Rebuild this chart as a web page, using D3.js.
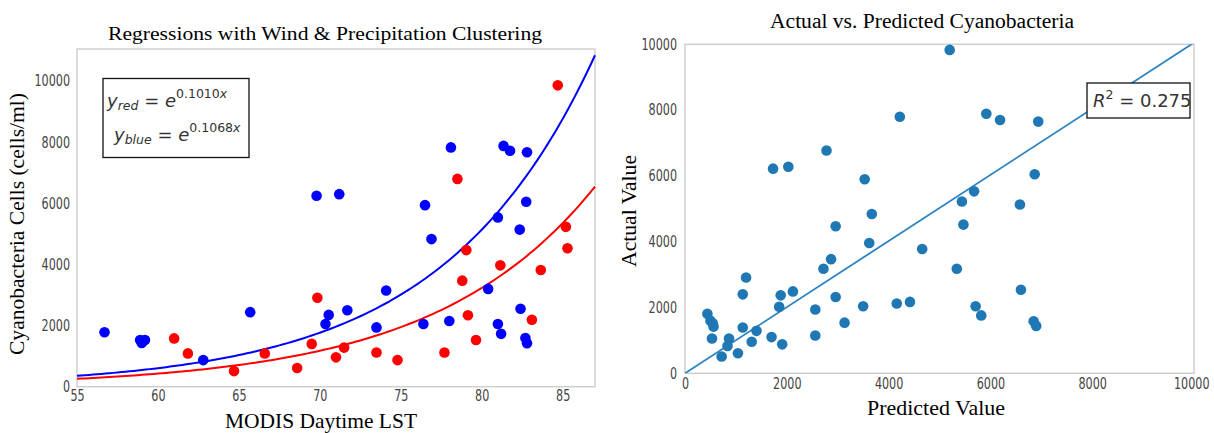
<!DOCTYPE html>
<html><head><meta charset="utf-8">
<script src="https://cdn.jsdelivr.net/npm/d3@7"></script>
<style>
body{margin:0;background:#fff;}
svg{display:block;}
.tick text{font-family:"DejaVu Sans","Liberation Sans",sans-serif;font-stretch:condensed;fill:#444;}
</style></head><body>
<svg id="c" width="1214" height="433"></svg>
<script>
// ---------- Left chart data ----------
const blueX = [56.7,58.9,59.2,59.0,62.8,65.7,69.8,71.2,70.35,70.55,71.7,73.5,74.1,76.4,76.5,76.9,78.1,78.0,80.4,81.0,81.0,81.2,81.35,81.75,82.8,82.75,82.35,82.4,82.7,82.8];
const blueY = [1780,1530,1530,1430,870,2440,6250,6300,2050,2350,2500,1940,3150,2050,5940,4830,7830,2150,3200,5540,2050,1730,7880,7720,7670,6050,5140,2550,1590,1420];
const redX = [61.0,61.85,64.7,66.6,68.6,69.5,69.85,71.0,71.5,73.5,74.8,77.7,78.5,79.05,78.8,79.15,79.65,81.15,83.1,83.65,84.7,85.2,85.3];
const redY = [1580,1090,510,1090,610,1400,2910,960,1280,1120,870,1120,6800,4470,3470,2340,1530,3970,2190,3820,9860,5230,4530];
const fitCoef = {red:0.1010, blue:0.1068};
const leftXTicks = [55,60,65,70,75,80,85];
const leftYTicks = [0,2000,4000,6000,8000,10000];

// ---------- Right chart data ----------
const predicted = [5200,4220,5920,6190,6940,2780,1730,2030,3530,6870,5680,5440,6580,3670,2960,5470,3620,4660,2870,2720,5340,1200,1135,1880,2120,2960,6600,1850,2560,3500,4160,4420,5710,5820,6850,6900,3135,440,500,545,560,530,1135,1405,865,835,1310,1700,1910,2560,720,1040];
const actual    = [9830,7800,7890,7700,7650,6770,6220,6280,5900,6050,5530,5220,5130,4840,4470,4520,3960,3780,3470,3180,3180,2910,2400,2370,2490,2320,2540,2020,1940,2040,2120,2170,2040,1760,1580,1440,1540,1810,1600,1520,1420,1060,1390,1290,1060,830,960,1100,880,1150,510,610];
const rightTicks = [0,2000,4000,6000,8000,10000];
const fitLine = [[0,0],[10000,10050]];
const r2 = "0.275";

const svg = d3.select("#c");
const serif = '"Liberation Serif","Times New Roman",serif';
const fmt = d3.format("d");

function frame(g,x0,y0,x1,y1){
  g.append("rect").attr("x",x0).attr("y",y0).attr("width",x1-x0).attr("height",y1-y0)
   .attr("fill","none").attr("stroke","#cfcfcf").attr("stroke-width",1.5);
}
function squeeze(sel){
  // condense tick labels to the narrow look of the reference
  sel.each(function(){
    const t=d3.select(this); const n=t.text().length;
    t.attr("textLength",n*7.1).attr("lengthAdjust","spacingAndGlyphs");
  });
}

// ===== LEFT =====
const L = {x0:77,x1:595,y0:49,y1:386.7};
const xL = d3.scaleLinear().domain([55,87]).range([L.x0,L.x1]);
const yL = d3.scaleLinear().domain([0,11050]).range([L.y1,L.y0]);
const gl = svg.append("g");
frame(gl,L.x0,L.y0,L.x1,L.y1);

gl.append("g").attr("transform",`translate(0,${L.y1})`)
  .call(d3.axisBottom(xL).tickValues(leftXTicks).tickFormat(fmt).tickSize(0).tickPadding(4))
  .call(g=>g.select(".domain").remove())
  .selectAll("text").style("font-size","15px").call(squeeze);
gl.append("g").attr("transform",`translate(${L.x0-1},0)`)
  .call(d3.axisLeft(yL).tickValues(leftYTicks).tickFormat(fmt).tickSize(0).tickPadding(6))
  .call(g=>g.select(".domain").remove())
  .selectAll("text").style("font-size","15px").call(squeeze);

svg.append("clipPath").attr("id","clipL").append("rect")
  .attr("x",L.x0).attr("y",L.y0-2).attr("width",L.x1-L.x0+3).attr("height",L.y1-L.y0+2);

const curve = k => d3.range(55,87.001,0.25).map(x=>[x,Math.exp(k*x)]);
const lineL = d3.line().x(d=>xL(d[0])).y(d=>yL(d[1]));
gl.append("path").attr("d",lineL(curve(fitCoef.red))).attr("fill","none").attr("stroke","#ff0000").attr("stroke-width",2).attr("clip-path","url(#clipL)");
gl.append("path").attr("d",lineL(curve(fitCoef.blue))).attr("fill","none").attr("stroke","#0000ff").attr("stroke-width",2).attr("clip-path","url(#clipL)");

gl.selectAll("circle.b").data(blueX.map((x,i)=>[x,blueY[i]])).enter().append("circle")
  .attr("cx",d=>xL(d[0])).attr("cy",d=>yL(d[1])).attr("r",5.3).attr("fill","#0000ff");
gl.selectAll("circle.r").data(redX.map((x,i)=>[x,redY[i]])).enter().append("circle")
  .attr("cx",d=>xL(d[0])).attr("cy",d=>yL(d[1])).attr("r",5.3).attr("fill","#ff0000");

// legend box
gl.append("rect").attr("x",103).attr("y",78.5).attr("width",146).attr("height",79)
  .attr("fill","#fff").attr("stroke","#111").attr("stroke-width",1.3);
const mt = '"DejaVu Sans",sans-serif';
function eq(y,x,sub,coef){
  const t = gl.append("text").attr("x",x).attr("y",y).style("font-family",mt).style("font-size","18px").attr("fill","#333");
  t.append("tspan").text("y").style("font-style","italic");
  t.append("tspan").text(sub).style("font-style","italic").style("font-size","12.5px").attr("dy",3);
  t.append("tspan").text(" = ").attr("dy",-3);
  t.append("tspan").text("e").style("font-style","italic");
  t.append("tspan").text(coef).style("font-size","12.5px").attr("dy",-9);
  t.append("tspan").text("x").style("font-size","12.5px").style("font-style","italic");
}
eq(106.5,107,"red",fitCoef.red.toFixed(4));
eq(140.5,114,"blue",fitCoef.blue.toFixed(4));

gl.append("text").attr("x",325).attr("y",40).attr("text-anchor","middle")
  .style("font-family",serif).style("font-size","19px").attr("textLength",434).attr("lengthAdjust","spacingAndGlyphs")
  .text("Regressions with Wind & Precipitation Clustering");
gl.append("text").attr("x",321).attr("y",428).attr("text-anchor","middle")
  .style("font-family",serif).style("font-size","21px").attr("textLength",192).attr("lengthAdjust","spacingAndGlyphs")
  .text("MODIS Daytime LST");
gl.append("text").attr("transform","translate(24,224) rotate(-90)").attr("text-anchor","middle")
  .style("font-family",serif).style("font-size","20px").attr("textLength",262).attr("lengthAdjust","spacingAndGlyphs")
  .text("Cyanobacteria Cells (cells/ml)");

// ===== RIGHT =====
const R = {x0:685,x1:1194,y0:44.3,y1:373.3};
const xR = d3.scaleLinear().domain([0,10000]).range([R.x0,R.x1]);
const yR = d3.scaleLinear().domain([0,10000]).range([R.y1,R.y0]);
const gr = svg.append("g");
frame(gr,R.x0,R.y0,R.x1,R.y1);
gr.append("g").attr("transform",`translate(0,${R.y1})`)
  .call(d3.axisBottom(xR).tickValues(rightTicks).tickFormat(fmt).tickSize(0).tickPadding(5))
  .call(g=>g.select(".domain").remove())
  .selectAll("text").style("font-size","15px").call(squeeze)
  .filter(d=>d===10000).attr("text-anchor","end").attr("x",15);
gr.append("g").attr("transform",`translate(${R.x0-1},0)`)
  .call(d3.axisLeft(yR).tickValues(rightTicks).tickFormat(fmt).tickSize(0).tickPadding(7))
  .call(g=>g.select(".domain").remove())
  .selectAll("text").style("font-size","15px").call(squeeze);

svg.append("clipPath").attr("id","clipR").append("rect")
  .attr("x",R.x0).attr("y",R.y0).attr("width",R.x1-R.x0).attr("height",R.y1-R.y0);
gr.append("path").attr("d",d3.line().x(d=>xR(d[0])).y(d=>yR(d[1]))(fitLine))
  .attr("fill","none").attr("stroke","#2c83c2").attr("stroke-width",1.8).attr("clip-path","url(#clipR)");
gr.selectAll("circle").data(predicted.map((p,i)=>[p,actual[i]])).enter().append("circle")
  .attr("cx",d=>xR(d[0])).attr("cy",d=>yR(d[1])).attr("r",5.3).attr("fill","#1f77b4");

gr.append("rect").attr("x",1087).attr("y",83).attr("width",103).attr("height",35)
  .attr("fill","#fff").attr("stroke","#111").attr("stroke-width",1.3);
const rt = gr.append("text").attr("x",1093).attr("y",107).style("font-family",mt).style("font-size","18px").attr("fill","#333");
rt.append("tspan").text("R").style("font-style","italic");
rt.append("tspan").text("2").style("font-size","12.5px").attr("dy",-8);
rt.append("tspan").text(" = "+r2).attr("dy",8);

gr.append("text").attr("x",922).attr("y",28).attr("text-anchor","middle")
  .style("font-family",serif).style("font-size","20px").attr("textLength",304).attr("lengthAdjust","spacingAndGlyphs")
  .text("Actual vs. Predicted Cyanobacteria");
gr.append("text").attr("x",936).attr("y",415).attr("text-anchor","middle")
  .style("font-family",serif).style("font-size","21px").attr("textLength",138).attr("lengthAdjust","spacingAndGlyphs")
  .text("Predicted Value");
gr.append("text").attr("transform","translate(636,211) rotate(-90)").attr("text-anchor","middle")
  .style("font-family",serif).style("font-size","21px").attr("textLength",112).attr("lengthAdjust","spacingAndGlyphs")
  .text("Actual Value");
</script></body></html>
